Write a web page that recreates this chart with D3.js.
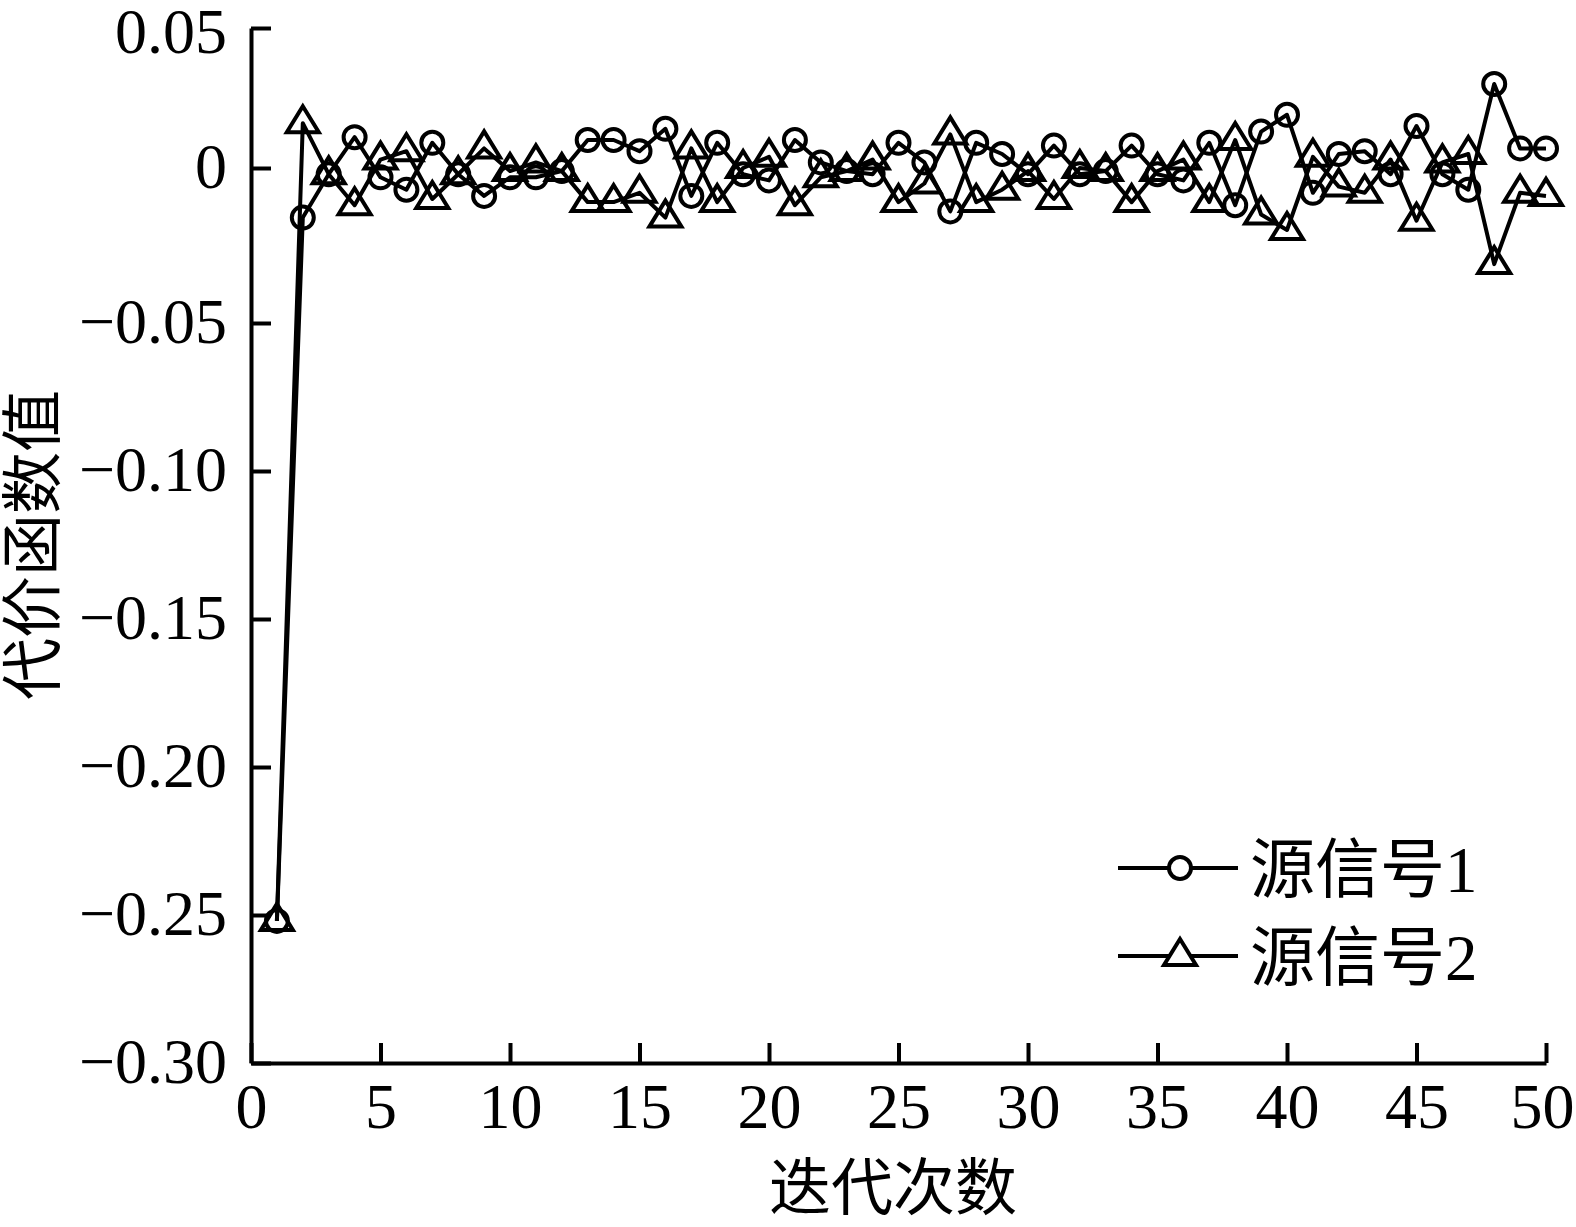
<!DOCTYPE html>
<html>
<head>
<meta charset="utf-8">
<script src="https://cdn.jsdelivr.net/npm/d3@7/dist/d3.min.js"></script>
<style>
  html, body { margin: 0; padding: 0; background: #fff; }
  svg { display: block; }
</style>
</head>
<body>
<script>
// ---- data ----
const iterations = [1,2,3,4,5,6,7,8,9,10,11,12,13,14,15,16,17,18,19,20,21,22,23,24,25,26,27,28,29,30,31,32,33,34,35,36,37,38,39,40,41,42,43,44,45,46,47,48,49,50];
const source1 = [-0.252,-0.016,-0.002,0.011,-0.003,-0.007,0.009,-0.002,-0.009,-0.003,-0.003,-0.001,0.010,0.010,0.006,0.014,-0.009,0.009,-0.002,-0.004,0.010,0.002,-0.001,-0.002,0.009,0.002,-0.014,0.009,0.005,-0.002,0.008,-0.002,-0.001,0.008,-0.002,-0.004,0.009,-0.012,0.013,0.019,-0.008,0.005,0.006,-0.002,0.015,-0.002,-0.007,0.030,0.007,0.007];
const source2 = [-0.252,0.016,-0.002,-0.012,0.003,0.006,-0.010,-0.002,0.007,-0.001,0.002,-0.001,-0.011,-0.011,-0.008,-0.016,0.007,-0.011,0.000,0.004,-0.012,-0.003,-0.001,0.003,-0.011,-0.005,0.012,-0.011,-0.007,-0.001,-0.010,0.000,-0.001,-0.011,-0.001,0.003,-0.011,0.010,-0.015,-0.020,0.004,-0.006,-0.008,0.003,-0.017,0.002,0.005,-0.031,-0.008,-0.009];
const seriesNames = ["源信号1", "源信号2"];
const xTicks = [0,5,10,15,20,25,30,35,40,45,50];
const yTicks = [0.05,0,-0.05,-0.10,-0.15,-0.20,-0.25,-0.30];
const yTickLabels = ["0.05","0","\u22120.05","\u22120.10","\u22120.15","\u22120.20","\u22120.25","\u22120.30"];
const xTitle = "迭代次数";
const yTitle = "代价函数值";

// ---- layout ----
const W = 1576, H = 1227;
const FONT = "'Liberation Serif','Times New Roman','Noto Sans CJK SC',serif";
const CJK = "'Liberation Serif','Noto Sans CJK SC',sans-serif";

const svg = d3.select("body").append("svg").attr("width", W).attr("height", H);

const x = d3.scaleLinear().domain([0, 50]).range([251, 1546]);
const y = d3.scaleLinear().domain([0.05, 0, -0.05, -0.30]).range([28, 168, 323, 1063]);

// axes
const xAxis = d3.axisBottom(x).tickValues(xTicks).tickSizeInner(-20).tickSizeOuter(0).tickPadding(20).tickFormat(d3.format("d"));
const yAxis = d3.axisLeft(y).tickValues(yTicks).tickSizeInner(-20).tickSizeOuter(0).tickPadding(24)
  .tickFormat((d, i) => yTickLabels[i]);

const gx = svg.append("g").attr("transform", `translate(0,${y(-0.30)})`).call(xAxis);
const gy = svg.append("g").attr("transform", `translate(${x(0)},0)`).call(yAxis);

[gx, gy].forEach(g => {
  g.select(".domain").attr("stroke", "#000").attr("stroke-width", 4);
  g.selectAll(".tick line").attr("stroke", "#000").attr("stroke-width", 4);
  g.selectAll(".tick text").attr("fill", "#000").style("font-family", FONT).style("font-size", "64px");
});
gy.selectAll(".tick text").attr("dy", "0.30em");
gy.selectAll(".tick text").filter(d => d === 0.05).attr("dy", "0.38em");
gx.selectAll(".tick text").filter(d => d === 50).attr("dx", "-4");

// titles
svg.append("text").attr("x", 893).attr("y", 1210).attr("text-anchor", "middle")
  .style("font-family", CJK).style("font-size", "62px").text(xTitle);
svg.append("text").attr("transform", "translate(55,545) rotate(-90)").attr("text-anchor", "middle")
  .style("font-family", CJK).style("font-size", "62px").text(yTitle);

// lines
const line = d3.line().x((d, i) => x(iterations[i])).y(d => y(d));
const plot = svg.append("g");
[source1, source2].forEach(s => {
  plot.append("path").datum(s).attr("d", line).attr("fill", "none").attr("stroke", "#000").attr("stroke-width", 4).attr("stroke-linejoin", "round");
});

const triPath = "M0,-17L16,9L-16,9Z";

plot.selectAll("circle.s1").data(source1).enter().append("circle")
  .attr("cx", (d, i) => x(iterations[i])).attr("cy", d => y(d)).attr("r", 11)
  .attr("fill", "none").attr("stroke", "#000").attr("stroke-width", 4);

plot.selectAll("path.s2").data(source2).enter().append("path")
  .attr("d", triPath)
  .attr("transform", (d, i) => `translate(${x(iterations[i])},${y(d)})`)
  .attr("fill", "none").attr("stroke", "#000").attr("stroke-width", 4).attr("stroke-linejoin", "miter");

// legend
const legendRows = [{ y: 868, kind: "circle" }, { y: 956, kind: "tri" }];
legendRows.forEach((r, i) => {
  const g = svg.append("g");
  g.append("line").attr("x1", 1118).attr("x2", 1238).attr("y1", r.y).attr("y2", r.y).attr("stroke", "#000").attr("stroke-width", 4);
  if (r.kind === "circle") {
    g.append("circle").attr("cx", 1180).attr("cy", r.y).attr("r", 11).attr("fill", "#fff").attr("stroke", "#000").attr("stroke-width", 4);
  } else {
    g.append("path").attr("d", triPath).attr("transform", `translate(1180,${r.y})`).attr("fill", "#fff").attr("stroke", "#000").attr("stroke-width", 4);
  }
  g.append("text").attr("x", 1250).attr("y", r.y + 24).style("font-family", CJK).style("font-size", "65px").text(seriesNames[i]);
});
</script>
</body>
</html>
